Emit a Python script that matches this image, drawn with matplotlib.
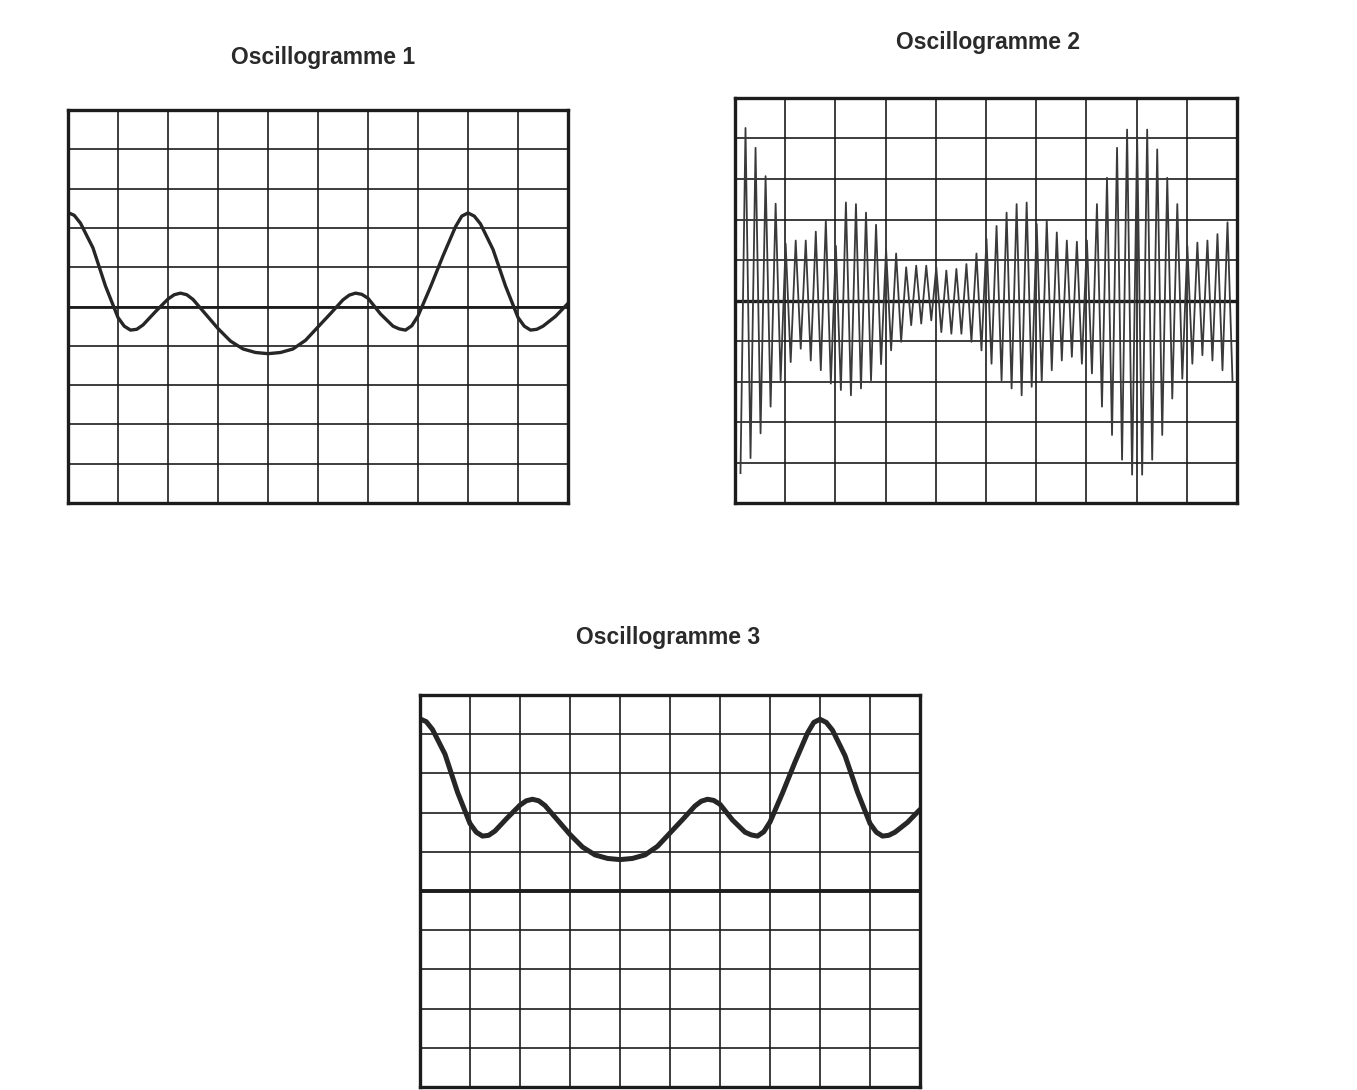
import numpy as np
import matplotlib
matplotlib.use("Agg")
import matplotlib.pyplot as plt

# screen: 10 x 10 divisions, values in divisions
n_div = 10

# Oscillogramme 1 : trace (x in div, y in div from centre line)
x1 = [0, 0.125, 0.25, 0.5, 0.75, 1.0, 1.125, 1.25, 1.375, 1.5, 1.75, 2.0, 2.125,
      2.25, 2.375, 2.5, 2.75, 3.0, 3.25, 3.5, 3.75, 4.0, 4.25, 4.5, 4.75, 5.0,
      5.25, 5.5, 5.625, 5.75, 5.875, 6.0, 6.25, 6.5, 6.625, 6.75, 6.875, 7.0,
      7.25, 7.5, 7.75, 7.875, 8.0, 8.125, 8.25, 8.5, 8.75, 9.0, 9.125, 9.25,
      9.375, 9.5, 9.75, 10.0]
y1 = [2.39, 2.32, 2.12, 1.49, 0.52, -0.28, -0.50, -0.60, -0.58, -0.47, -0.13,
      0.19, 0.30, 0.34, 0.30, 0.18, -0.19, -0.56, -0.88, -1.08, -1.17, -1.20,
      -1.17, -1.08, -0.86, -0.52, -0.18, 0.17, 0.29, 0.34, 0.31, 0.21, -0.19,
      -0.50, -0.57, -0.60, -0.49, -0.24, 0.50, 1.29, 2.03, 2.30, 2.38, 2.30,
      2.10, 1.45, 0.52, -0.28, -0.50, -0.60, -0.58, -0.50, -0.25, 0.08]

# Oscillogramme 3 : same trace, shifted up (DC coupling)
y3 = [4.39, 4.32, 4.12, 3.49, 2.52, 1.72, 1.50, 1.40, 1.42, 1.53, 1.87,
      2.19, 2.30, 2.34, 2.30, 2.18, 1.81, 1.44, 1.12, 0.92, 0.83, 0.80,
      0.83, 0.92, 1.14, 1.48, 1.82, 2.17, 2.29, 2.34, 2.31, 2.21, 1.81,
      1.50, 1.43, 1.40, 1.51, 1.76, 2.50, 3.29, 4.03, 4.30, 4.38, 4.30,
      4.10, 3.45, 2.52, 1.72, 1.50, 1.40, 1.42, 1.50, 1.75, 2.08]

# Oscillogramme 2 : modulated carrier, 5 periods per division
carrier_period = 0.2
carrier_phase = 0.11
peaks2 = [4.26, 3.77, 3.07, 2.39, 1.40, 1.48, 1.48, 1.70, 1.98, 1.35,
          2.42, 2.38, 2.17, 1.87, 1.27, 1.16, 0.82, 0.86, 0.86, 0.82,
          0.74, 0.78, 0.90, 1.16, 1.52, 1.84, 2.17, 2.38, 2.42, 1.89,
          1.98, 1.68, 1.48, 1.45, 1.48, 2.38, 3.03, 3.77, 4.22, 4.05,
          4.22, 3.73, 3.03, 2.38, 1.35, 1.43, 1.48, 1.64, 1.93]
troughs2 = [4.26, 3.89, 3.28, 2.62, 1.97, 1.52, 1.19, 1.48, 1.72, 2.05,
            2.21, 2.34, 2.17, 1.97, 1.57, 1.23, 1.02, 0.61, 0.57, 0.49,
            0.78, 0.82, 0.82, 1.02, 1.23, 1.56, 1.97, 2.17, 2.34, 2.13,
            2.00, 1.72, 1.48, 1.39, 1.56, 1.80, 2.62, 3.32, 3.93, 4.30,
            4.30, 3.93, 3.32, 2.42, 1.93, 1.56, 1.35, 1.48, 1.72, 2.00]

titles = ["Oscillogramme 1", "Oscillogramme 2", "Oscillogramme 3"]

ink = "#1c1c1c"


def draw_screen(ax, centre_lw=2.0):
    ax.set_xlim(0, n_div)
    ax.set_ylim(-n_div / 2, n_div / 2)
    ax.set_xticks(np.arange(0, n_div + 1))
    ax.set_yticks(np.arange(-n_div / 2, n_div / 2 + 1))
    ax.grid(True, color=ink, lw=1.2)
    ax.set_axisbelow(True)
    ax.tick_params(length=0, labelbottom=False, labelleft=False)
    ax.axhline(0, color=ink, lw=centre_lw, zorder=1.5)
    for s in ax.spines.values():
        s.set_linewidth(2.4)
        s.set_color(ink)


fig = plt.figure(figsize=(13.57, 10.9), dpi=100)

ax1 = fig.add_axes([0.0501, 0.5385, 0.3685, 0.3606])
draw_screen(ax1)
ax1.plot(x1, y1, color="#262626", lw=2.4, solid_capstyle="round")

ax2 = fig.add_axes([0.5416, 0.5385, 0.3700, 0.3716])
draw_screen(ax2, centre_lw=2.4)
# zigzag trace: trough, peak, trough, ...
xt = carrier_phase + carrier_period * np.arange(len(troughs2))
xp = xt[:len(peaks2)] + carrier_period / 2
xs, ys = [], []
for j in range(len(troughs2)):
    xs.append(xt[j])
    ys.append(-troughs2[j])
    if j < len(peaks2):
        xs.append(xp[j])
        ys.append(peaks2[j])
ax2.plot(xs, ys, color="#3a3a3a", lw=1.3)

ax3 = fig.add_axes([0.3095, 0.0028, 0.3685, 0.3596])
draw_screen(ax3, centre_lw=2.8)
ax3.plot(x1, y3, color="#262626", lw=3.6, solid_capstyle="round")

title_pos = [(0.238, 0.9477), (0.728, 0.9606), (0.4923, 0.4147)]
for t, (tx, ty) in zip(titles, title_pos):
    fig.text(tx, ty, t, ha="center", va="center", fontsize=16.5,
             fontweight="bold", family="Liberation Sans", color="#2a2a2a")

fig.savefig("out.png", dpi=100, facecolor="white")
